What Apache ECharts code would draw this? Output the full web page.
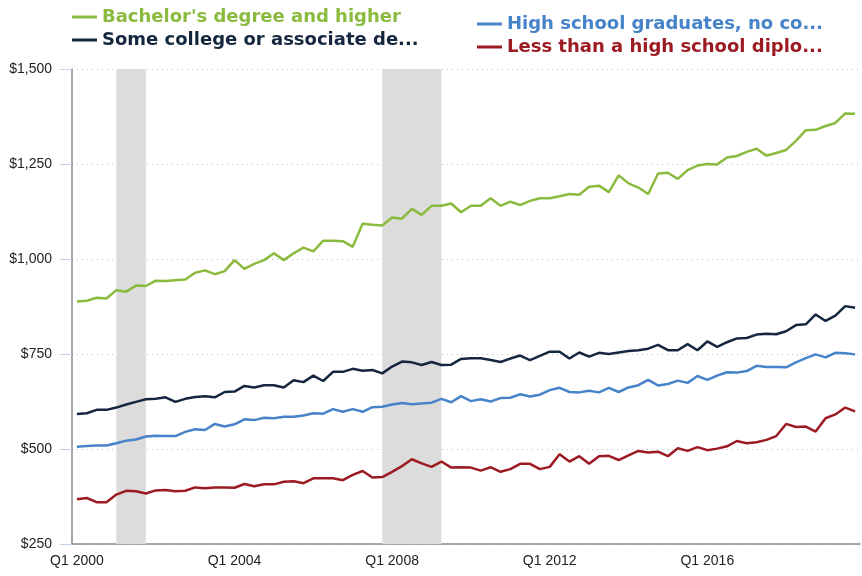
<!DOCTYPE html>
<html>
<head>
<meta charset="utf-8">
<script src="https://cdn.jsdelivr.net/npm/echarts@6/dist/echarts.min.js"></script>
<style>
  html, body { margin: 0; padding: 0; background: #fff; }
  #main { width: 862px; height: 576px; }
</style>
</head>
<body>
<div id="main"></div>
<script>
// quarters Q1 2000 .. Q4 2019
var quarters = [];
for (var y = 2000; y <= 2019; y++) {
    for (var q = 1; q <= 4; q++) quarters.push('Q' + q + ' ' + y);
}

// median weekly earnings by education
var bachelor = [888, 890, 898, 896, 918, 914, 930, 929, 943, 942, 944, 946, 964, 970, 960, 968,
    997, 974, 987, 997, 1015, 997, 1015, 1030, 1020, 1048, 1048, 1047, 1032, 1093, 1090, 1088,
    1109, 1106, 1132, 1116, 1140, 1140, 1146, 1123, 1140, 1140, 1160, 1140, 1151, 1142, 1153, 1160,
    1160, 1165, 1171, 1169, 1190, 1193, 1176, 1220, 1199, 1188, 1171, 1225, 1227, 1211, 1234, 1246,
    1250, 1249, 1267, 1271, 1282, 1290, 1272, 1279, 1287, 1311, 1339, 1340, 1350, 1358, 1383, 1382];
var someCollege = [592, 594, 603, 603, 609, 617, 624, 631, 632, 636, 624, 632, 637, 639, 636, 650,
    651, 666, 662, 668, 668, 662, 681, 676, 693, 679, 703, 703, 711, 706, 708, 699,
    717, 730, 728, 721, 729, 721, 722, 737, 739, 739, 734, 729, 738, 746, 734, 745,
    756, 756, 738, 754, 743, 753, 750, 754, 758, 760, 764, 774, 760, 760, 776, 760,
    783, 769, 781, 791, 792, 801, 803, 802, 810, 826, 828, 854, 837, 851, 876, 872];
var highSchool = [506, 508, 509, 509, 515, 522, 525, 533, 535, 534, 534, 545, 552, 550, 566, 559,
    565, 578, 576, 582, 581, 585, 585, 588, 594, 593, 605, 598, 605, 598, 610, 611,
    617, 621, 618, 620, 622, 632, 623, 639, 626, 631, 625, 634, 635, 644, 638, 643,
    655, 661, 650, 649, 653, 649, 661, 650, 662, 668, 682, 667, 671, 680, 674, 692,
    682, 693, 702, 701, 705, 719, 716, 716, 715, 728, 739, 749, 741, 753, 752, 749];
var lessThanHS = [368, 371, 360, 360, 380, 390, 389, 383, 391, 392, 389, 390, 399, 397, 399, 399,
    398, 408, 402, 407, 407, 414, 415, 410, 423, 423, 423, 418, 432, 442, 425, 426,
    440, 455, 473, 462, 453, 467, 451, 452, 451, 443, 452, 440, 447, 461, 461, 447,
    453, 486, 467, 481, 461, 481, 482, 471, 483, 495, 491, 493, 481, 502, 495, 505,
    497, 501, 507, 521, 515, 518, 524, 534, 566, 558, 559, 546, 581, 591, 609, 599];

// recessions (shaded)
var recessions = [['Q1 2001', 'Q4 2001'], ['Q4 2007', 'Q2 2009']];

var names = ["Bachelor's degree and higher", 'Some college or associate degree',
    'High school graduates, no college', 'Less than a high school diploma'];
var shortNames = ["Bachelor's degree and higher", 'Some college or associate de...',
    'High school graduates, no co...', 'Less than a high school diplo...'];
var colors = ['#8aba3e', '#15273f', '#4683c9', '#9c1b22'];
var values = [bachelor, someCollege, highSchool, lessThanHS];

var myChart = echarts.init(document.getElementById('main'));

function legendItem(i) {
    return { name: names[i], textStyle: { color: colors[i] } };
}
function legendCfg(left, top, idx) {
    return {
        left: left, top: top, orient: 'vertical', itemGap: 3, padding: 0,
        icon: 'rect', itemWidth: 25, itemHeight: 3,
        data: idx.map(legendItem),
        formatter: function (n) { return shortNames[names.indexOf(n)]; },
        textStyle: { fontFamily: 'DejaVu Sans', fontWeight: 'bold', fontSize: 18, lineHeight: 20 },
        selectedMode: false
    };
}

var series = values.map(function (d, i) {
    var s = {
        name: names[i], type: 'line', data: d,
        showSymbol: false, symbol: 'none',
        lineStyle: { color: colors[i], width: 2.5 },
        itemStyle: { color: colors[i] },
        z: 3
    };
    if (i === 0) {
        s.markArea = {
            silent: true,
            itemStyle: { color: '#dcdcdc' },
            data: recessions.map(function (r) { return [{ xAxis: r[0] }, { xAxis: r[1] }]; })
        };
    }
    return s;
});

option = {
    animation: false,
    legend: [legendCfg(72, 7, [0, 1]), legendCfg(477, 14, [2, 3])],
    grid: { left: 72, right: 2, top: 69, bottom: 32, containLabel: false },
    xAxis: {
        type: 'category', data: quarters, boundaryGap: true,
        axisLine: { lineStyle: { color: '#8a8a8a', width: 1.5 } },
        axisTick: { interval: 15, alignWithLabel: true, length: 10, lineStyle: { color: '#c5d3ea' } },
        axisLabel: { interval: 15, color: '#222', fontSize: 14, fontFamily: 'Liberation Sans', margin: 10 },
        splitLine: { show: false }
    },
    yAxis: {
        type: 'value', min: 250, max: 1500, interval: 250,
        axisLine: { show: true, lineStyle: { color: '#8a8a8a', width: 1.5 } },
        axisTick: { show: true, length: 12, lineStyle: { color: '#c5d3ea' } },
        axisLabel: {
            color: '#222', fontSize: 14, fontFamily: 'Liberation Sans', margin: 20,
            padding: [6, 0, 0, 0],
            formatter: function (v) { return '$' + v.toLocaleString('en-US'); }
        },
        splitLine: { lineStyle: { color: '#bbb', type: [1, 4] } }
    },
    series: series
};

myChart.setOption(option);
</script>
</body>
</html>
